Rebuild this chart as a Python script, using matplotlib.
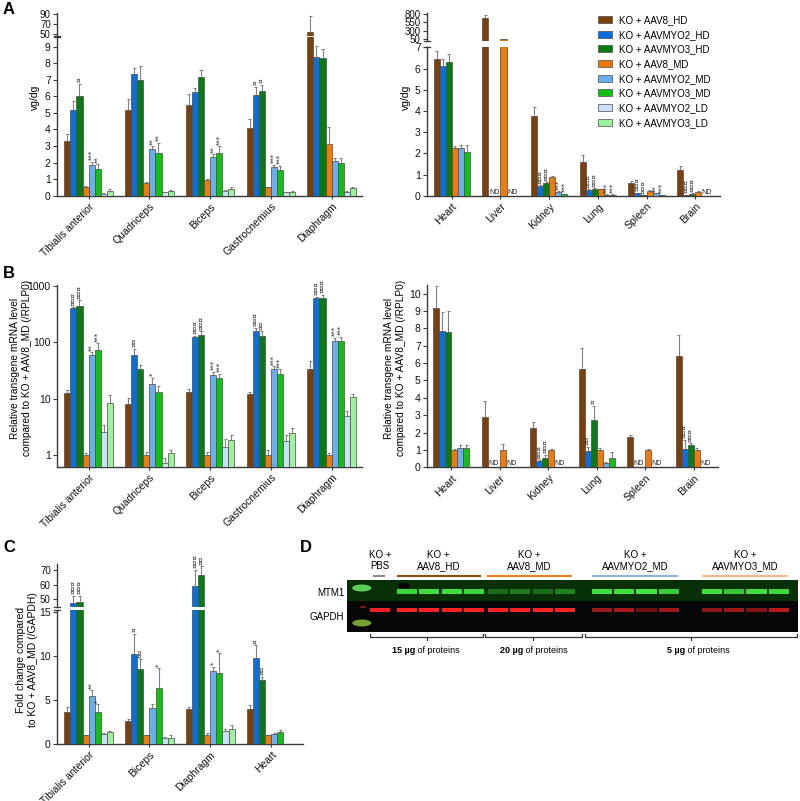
import numpy as np
import matplotlib
matplotlib.use("Agg")
import matplotlib.pyplot as plt
from matplotlib.patches import Rectangle, Ellipse, Patch
from matplotlib.ticker import NullLocator
from matplotlib.colors import to_rgb

plt.rcParams["font.family"] = ["Liberation Sans", "DejaVu Sans"]
plt.rcParams["axes.linewidth"] = 1.0

nan = np.nan

# ---------------- data ----------------
series_labels = ["KO + AAV8_HD", "KO + AAVMYO2_HD", "KO + AAVMYO3_HD", "KO + AAV8_MD",
                 "KO + AAVMYO2_MD", "KO + AAVMYO3_MD", "KO + AAVMYO2_LD", "KO + AAVMYO3_LD"]
series_colors = ["#7B3F0A", "#0A6FDB", "#0B7A14", "#EE7A0C",
                 "#6AAEF2", "#14BF14", "#C9E0F8", "#9DF29D"]

# Panel A (vg/dg), muscles
muscles_a = ["Tibialis anterior", "Quadriceps", "Biceps", "Gastrocnemius", "Diaphragm"]
a_muscle_vals = [[3.3, 5.2, 6.0, 0.5, 1.85, 1.6, 0.12, 0.3],
                 [5.15, 7.35, 7.0, 0.75, 2.8, 2.55, 0.2, 0.3],
                 [5.45, 6.25, 7.15, 0.93, 2.35, 2.55, 0.27, 0.42],
                 [4.1, 6.05, 6.3, 0.5, 1.72, 1.55, 0.22, 0.25],
                 [53.5, 8.4, 8.3, 3.15, 2.07, 1.95, 0.25, 0.45]]
a_muscle_err = [[0.45, 0.5, 0.75, 0.1, 0.2, 0.3, 0.05, 0.12],
                [0.7, 0.37, 0.85, 0.1, 0.17, 0.65, 0.05, 0.06],
                [0.7, 0.25, 0.45, 0.05, 0.15, 0.42, 0.1, 0.13],
                [0.55, 0.52, 0.4, 0.05, 0.16, 0.25, 0.03, 0.03],
                [33.0, 0.65, 0.55, 0.97, 0.23, 0.33, 0.05, 0.07]]
a_muscle_sig = [(0, 2, "¤"), (0, 4, "***"), (0, 5, "**"), (1, 4, "**"), (1, 5, "**"),
                (2, 4, "**"), (2, 5, "***"), (3, 1, "¤"), (3, 2, "¤"), (3, 4, "***"), (3, 5, "***")]

# Panel A (vg/dg), organs
organs = ["Heart", "Liver", "Kidney", "Lung", "Spleen", "Brain"]
a_organ_vals = [[6.45, 6.1, 6.3, 2.25, 2.25, 2.05],
                [690, nan, nan, 58, nan, nan],
                [3.75, 0.45, 0.6, 0.9, 0.18, 0.08],
                [1.6, 0.27, 0.32, 0.3, 0.05, 0.05],
                [0.62, 0.13, 0.02, 0.22, 0.12, 0.03],
                [1.2, 0.03, 0.1, 0.18, nan, nan]]
a_organ_err = [[0.4, 0.35, 0.4, 0.1, 0.12, 0.33],
               [80, nan, nan, 8, nan, nan],
               [0.45, 0.05, 0.05, 0.05, 0.03, 0.02],
               [0.3, 0.03, 0.02, 0.03, 0.01, 0.01],
               [0.06, 0.02, 0.01, 0.03, 0.01, 0.01],
               [0.18, 0.01, 0.02, 0.04, nan, nan]]
a_organ_sig = [(2, 1, "¤¤¤"), (2, 2, "¤¤¤"), (2, 4, "***"), (2, 5, "***"),
               (3, 1, "¤¤¤"), (3, 2, "¤¤¤"), (3, 4, "***"), (3, 5, "***"),
               (4, 1, "¤¤¤"), (4, 2, "¤¤¤"), (4, 4, "**"), (4, 5, "***"),
               (5, 1, "¤¤¤"), (5, 2, "¤¤¤")]
a_organ_nd = [(1, 1), (1, 4), (5, 4)]

# Panel B (relative mRNA), muscles (log scale)
b_muscle_vals = [[12.5, 400, 435, 1.0, 60, 74, 2.6, 8.5],
                 [7.9, 59, 33.5, 1.0, 17.8, 13.1, 0.73, 1.07],
                 [13, 122, 135, 1.0, 26, 23.5, 1.4, 1.85],
                 [12, 155, 128, 1.0, 34, 27, 1.75, 2.5],
                 [34, 610, 610, 1.0, 103, 106, 5.0, 10.5]]
b_muscle_err = [[1.8, 20, 115, 0.08, 6, 23, 0.75, 2.9],
                [2.2, 18, 6, 0.15, 5.5, 3.7, 0.17, 0.18],
                [2, 8, 20, 0.12, 4, 4, 0.5, 0.45],
                [1, 25, 27, 0.25, 4, 6, 0.5, 0.5],
                [12, 30, 80, 0.08, 17, 19, 1.0, 1.7]]
b_muscle_sig = [(0, 1, "¤¤¤"), (0, 2, "¤¤¤"), (0, 4, "**"), (0, 5, "***"),
                (1, 1, "¤¤"), (1, 4, "*"),
                (2, 1, "¤¤¤"), (2, 2, "¤¤¤"), (2, 4, "***"), (2, 5, "***"),
                (3, 1, "¤¤¤"), (3, 2, "¤¤"), (3, 4, "***"), (3, 5, "***"),
                (4, 1, "¤¤¤"), (4, 2, "¤¤¤"), (4, 4, "***"), (4, 5, "***")]

# Panel B (relative mRNA), organs
b_organ_vals = [[9.2, 7.85, 7.8, 1.0, 1.12, 1.1],
                [2.92, nan, nan, 1.0, nan, nan],
                [2.28, 0.35, 0.55, 1.0, nan, nan],
                [5.68, 0.95, 2.75, 1.0, 0.25, 0.55],
                [1.77, nan, nan, 1.0, nan, nan],
                [6.4, 1.05, 1.27, 1.0, nan, nan]]
b_organ_err = [[1.25, 1.1, 1.2, 0.05, 0.15, 0.17],
               [0.88, nan, nan, 0.32, nan, nan],
               [0.34, 0.05, 0.17, 0.07, nan, nan],
               [1.22, 0.23, 0.8, 0.12, 0.05, 0.35],
               [0.1, nan, nan, 0.05, nan, nan],
               [1.2, 0.55, 0.13, 0.12, nan, nan]]
b_organ_sig = [(2, 1, "¤¤¤"), (2, 2, "¤¤¤"), (3, 1, "¤¤"), (3, 2, "¤"),
               (5, 1, "¤¤¤"), (5, 2, "¤¤¤")]
b_organ_nd = [(1, 1), (1, 4), (2, 4), (4, 1), (4, 4), (5, 4)]

# Panel C (protein fold change)
tissues_c = ["Tibialis anterior", "Biceps", "Diaphragm", "Heart"]
c_vals = [[3.65, 47.3, 47.8, 1.0, 5.45, 3.65, 1.15, 1.35],
          [2.65, 10.2, 8.55, 1.0, 4.05, 6.4, 0.7, 0.7],
          [4.0, 59, 66.5, 1.0, 8.3, 8.05, 1.5, 1.7],
          [4.0, 9.7, 7.3, 1.0, 1.15, 1.4, nan, nan]]
c_err = [[0.55, 5, 4.5, 0.03, 0.65, 0.85, 0.05, 0.08],
         [0.15, 2.3, 1.05, 0.05, 0.45, 2.2, 0.05, 0.3],
         [0.15, 11, 6.2, 0.25, 0.45, 2.25, 0.15, 0.45],
         [0.4, 1.5, 0.35, 0.05, 0.05, 0.15, nan, nan]]
c_sig = [(0, 1, "¤¤¤"), (0, 2, "¤¤¤"), (0, 4, "**"), (0, 5, "*"),
         (1, 1, "¤"), (1, 2, "¤¤"), (1, 5, "*"),
         (2, 1, "¤¤¤"), (2, 2, "¤¤"), (2, 4, "*"), (2, 5, "*"),
         (3, 1, "¤"), (3, 2, "¤¤")]

# Panel D (western blot), relative band intensities per lane
blot_groups = ["KO +\nAAV8_HD", "KO +\nAAV8_MD", "KO +\nAAVMYO2_MD", "KO +\nAAVMYO3_MD"]
blot_group_colors = ["#8A4A12", "#EE7F1A", "#8EB3E3", "#F7B98C"]
mtm1_pbs = 0.0
gapdh_pbs = 0.95
mtm1_int = [[0.85, 0.9, 0.9, 0.85], [0.3, 0.38, 0.3, 0.42],
            [0.9, 0.9, 0.95, 0.8], [0.9, 0.78, 0.9, 0.88]]
gapdh_int = [[1.0, 1.0, 1.0, 1.0], [1.0, 1.0, 1.0, 1.0],
             [0.6, 0.65, 0.42, 0.6], [0.55, 0.6, 0.5, 0.72]]
protein_loads = ["15 µg", "20 µg", "5 µg"]

# ---------------- helpers ----------------
W, H = 800, 801
fig = plt.figure(figsize=(8, 8.01), dpi=100)

EDGE = "#4a4a4a"
ECOL = "#808080"
SPINE = "#3a3a3a"
FS = 7.5


def px_axes(x0, y0, x1, y1):
    return fig.add_axes([x0 / W, 1 - y1 / H, (x1 - x0) / W, (y1 - y0) / H])


def slot_x(g, s, n, w):
    return g + (s - (n - 1) / 2) * w


def draw_bars(axes_list, vals, errs, n, w, base=0.0):
    vals = np.asarray(vals, float)
    errs = np.asarray(errs, float)
    ng = vals.shape[0]
    for ax in axes_list:
        ylo = ax.get_ylim()[0]
        for s in range(n):
            xs = np.array([slot_x(g, s, n, w) for g in range(ng)])
            v = vals[:, s]
            e = errs[:, s]
            vis = ~np.isnan(v) & (v > ylo)
            ax.bar(xs[vis], v[vis] - base, w, bottom=base, color=series_colors[s],
                   edgecolor=EDGE, linewidth=0.5, zorder=3)
            ok = vis & ~np.isnan(e)
            ax.vlines(xs[ok], v[ok], v[ok] + e[ok], color=ECOL, lw=0.8, zorder=2)
            ax.hlines(v[ok] + e[ok], xs[ok] - w * 0.25, xs[ok] + w * 0.25,
                      color=ECOL, lw=0.8, zorder=2)


def annotate_sig(ax_lo, ax_hi, vals, errs, sigs, n, w):
    for g, s, txt in sigs:
        top = vals[g][s] + errs[g][s]
        ax = ax_lo
        if ax_hi is not None and top > ax_lo.get_ylim()[1]:
            ax = ax_hi
        fs = 5.2 if "¤" in txt else 5
        ax.annotate(txt, (slot_x(g, s, n, w), top), xytext=(0, 1.0),
                    textcoords="offset points", ha="center", va="bottom",
                    rotation=90, fontsize=fs, color="#222222", zorder=5,
                    family=["DejaVu Sans"])


def add_nd(ax, nds, n, w):
    for g, s in nds:
        ax.text(slot_x(g, s, n, w) - w / 2 + 0.01, 0, "ND", fontsize=5,
                ha="left", va="bottom", color="#222222")


def style(ax, top=False):
    for sp in ["top", "right"]:
        ax.spines[sp].set_visible(False)
    ax.spines["left"].set_color(SPINE)
    ax.spines["bottom"].set_color(SPINE)
    ax.tick_params(axis="y", length=3, width=0.8, pad=1.5, labelsize=FS,
                   color=SPINE, labelcolor="#111111")
    ax.tick_params(axis="x", length=2.5, width=0.8, pad=1.5, labelsize=FS,
                   color=SPINE, labelcolor="#111111")
    if top:
        ax.spines["bottom"].set_visible(False)
        ax.tick_params(axis="x", bottom=False, labelbottom=False)
        ax.xaxis.set_visible(False)
        ax.tick_params(axis="y", labelsize=7)


def break_mark(ax, where):
    bb = ax.get_position()
    d = 3.0 / (bb.width * W)
    ax.plot([-d, d], [where, where], transform=ax.transAxes, color=SPINE,
            lw=0.9, clip_on=False, zorder=6)


def set_xlabels(ax, names):
    ax.set_xticks(range(len(names)))
    ax.set_xticklabels(names, rotation=45, ha="right", rotation_mode="anchor")


W8 = 0.1
W6 = 0.1235

# ---------------- Panel A left ----------------
ax_al_hi = px_axes(57, 13.4, 362, 35.5)
ax_al = px_axes(57, 37.3, 362, 195.7)
for ax in (ax_al_hi, ax_al):
    ax.set_xlim(-0.52, 4.5)
ax_al_hi.set_ylim(47, 92)
ax_al.set_ylim(0, 9.56)
draw_bars([ax_al_hi, ax_al], a_muscle_vals, a_muscle_err, 8, W8)
style(ax_al_hi, top=True)
style(ax_al)
ax_al_hi.set_yticks([50, 70, 90])
ax_al.set_yticks(range(10))
set_xlabels(ax_al, muscles_a)
annotate_sig(ax_al, ax_al_hi, a_muscle_vals, a_muscle_err, a_muscle_sig, 8, W8)
break_mark(ax_al_hi, 0)
break_mark(ax_al, 1)

# ---------------- Panel A right ----------------
ax_ar_hi = px_axes(427, 13, 720, 40.5)
ax_ar = px_axes(427, 46.7, 720, 195.7)
for ax in (ax_ar_hi, ax_ar):
    ax.set_xlim(-0.51, 5.51)
ax_ar_hi.set_ylim(12, 830)
ax_ar.set_ylim(0, 7.03)
draw_bars([ax_ar_hi, ax_ar], a_organ_vals, a_organ_err, 6, W6)
style(ax_ar_hi, top=True)
style(ax_ar)
ax_ar_hi.set_yticks([50, 300, 550, 800])
ax_ar.set_yticks(range(8))
set_xlabels(ax_ar, organs)
annotate_sig(ax_ar, ax_ar_hi, a_organ_vals, a_organ_err, a_organ_sig, 6, W6)
add_nd(ax_ar, a_organ_nd, 6, W6)
break_mark(ax_ar_hi, 0)
break_mark(ax_ar, 1)

fig.text(35 / W, 1 - 97 / H, "vg/dg", rotation=90, ha="center", va="center", fontsize=FS)
fig.text(406 / W, 1 - 97 / H, "vg/dg", rotation=90, ha="center", va="center", fontsize=FS)

handles = [Patch(facecolor=c, edgecolor=EDGE, linewidth=0.5) for c in series_colors]
fig.legend(handles, series_labels, loc="upper left", bbox_to_anchor=(598 / W, 1 - 15 / H),
           frameon=False, fontsize=7, handlelength=1.45, handleheight=0.72,
           handletextpad=0.7, labelspacing=0.48, borderpad=0, borderaxespad=0)

# ---------------- Panel B left ----------------
ax_bl = px_axes(57, 285, 362, 466.7)
ax_bl.set_yscale("log")
ax_bl.set_xlim(-0.52, 4.5)
ax_bl.set_ylim(0.62, 1033)
draw_bars([ax_bl], b_muscle_vals, b_muscle_err, 8, W8, base=0.3)
style(ax_bl)
ax_bl.set_yticks([1, 10, 100, 1000])
ax_bl.set_yticklabels(["1", "10", "100", "1000"])
ax_bl.yaxis.set_minor_locator(NullLocator())
set_xlabels(ax_bl, muscles_a)
annotate_sig(ax_bl, None, b_muscle_vals, b_muscle_err, b_muscle_sig, 8, W8)

# ---------------- Panel B right ----------------
ax_br = px_axes(427, 285, 718, 467.3)
ax_br.set_xlim(-0.5, 5.5)
ax_br.set_ylim(0, 10.5)
draw_bars([ax_br], b_organ_vals, b_organ_err, 6, W6)
style(ax_br)
ax_br.set_yticks(range(11))
set_xlabels(ax_br, organs)
annotate_sig(ax_br, None, b_organ_vals, b_organ_err, b_organ_sig, 6, W6)
add_nd(ax_br, b_organ_nd, 6, W6)

ylab_b = "Relative transgene mRNA level\ncompared to KO + AAV8_MD (/RPLP0)"
fig.text(21 / W, 1 - 368 / H, ylab_b, rotation=90, ha="center", va="center",
         fontsize=7.3, multialignment="center")
fig.text(395 / W, 1 - 368 / H, ylab_b, rotation=90, ha="center", va="center",
         fontsize=7.3, multialignment="center")

# ---------------- Panel C ----------------
ax_c_hi = px_axes(57, 564, 302.7, 606.5)
ax_c = px_axes(57, 610, 302.7, 744)
for ax in (ax_c_hi, ax_c):
    ax.set_xlim(-0.52, 3.52)
ax_c_hi.set_ylim(45, 74)
ax_c.set_ylim(0, 15.19)
draw_bars([ax_c_hi, ax_c], c_vals, c_err, 8, W8)
style(ax_c_hi, top=True)
style(ax_c)
ax_c_hi.set_yticks([50, 60, 70])
ax_c.set_yticks([0, 5, 10, 15])
set_xlabels(ax_c, tissues_c)
annotate_sig(ax_c, ax_c_hi, c_vals, c_err, c_sig, 8, W8)
break_mark(ax_c_hi, 0)
break_mark(ax_c, 1)
fig.text(27 / W, 1 - 660 / H, "Fold change compared\nto KO + AAV8_MD (/GAPDH)", rotation=90,
         ha="center", va="center", fontsize=FS, multialignment="center")

# ---------------- Panel D (blot schematic) ----------------
axd = px_axes(330, 545, 800, 660)
axd.set_xlim(-0.759, 20.22)
axd.set_ylim(115, 0)
axd.axis("off")

BG_TOP = "#073007"
BG_BOT = "#070707"
axd.add_patch(Rectangle((0, 35), 20.13, 21, facecolor=BG_TOP, edgecolor="none"))
axd.add_patch(Rectangle((0, 56), 20.13, 31, facecolor=BG_BOT, edgecolor="none"))


def mix(c0, c1, t):
    a = np.array(to_rgb(c0)); b = np.array(to_rgb(c1))
    return tuple(a + (b - a) * t)


GREEN = "#46F046"
RED = "#FF2222"
group_starts = [2.67, 6.74, 11.37, 16.28]
lane_step = 1.0
pbs_x = 1.47
ladder_x = 0.66

# ladder
axd.add_patch(Ellipse((ladder_x, 43), 0.85, 7, facecolor="#5ACF5A", edgecolor="none"))
axd.add_patch(Ellipse((ladder_x, 78), 0.85, 7, facecolor="#74A030", edgecolor="none"))
axd.add_patch(Ellipse((ladder_x + 0.05, 62), 0.3, 2, facecolor="#8A1A1A", edgecolor="none"))
# PBS lane
axd.add_patch(Rectangle((pbs_x - 0.45, 63), 0.9, 4, facecolor=mix(BG_BOT, RED, gapdh_pbs),
                        edgecolor="none"))
for gi, x0 in enumerate(group_starts):
    for li in range(4):
        x = x0 + li * lane_step
        axd.add_patch(Rectangle((x - 0.45, 43.5), 0.9, 5,
                                facecolor=mix(BG_TOP, GREEN, mtm1_int[gi][li]), edgecolor="none"))
        axd.add_patch(Rectangle((x - 0.45, 63), 0.9, 4.2,
                                facecolor=mix(BG_BOT, RED, gapdh_int[gi][li]), edgecolor="none"))
# dark spot on first HD lane
axd.add_patch(Ellipse((group_starts[0] - 0.12, 41), 0.5, 6, facecolor="black", edgecolor="none"))

axd.text(-0.12, 48, "MTM1", ha="right", va="center", fontsize=7)
axd.text(-0.12, 71.5, "GAPDH", ha="right", va="center", fontsize=7)

# group labels and coloured lines
axd.text(pbs_x, 15.7, "KO +\nPBS", ha="center", va="center", fontsize=7, linespacing=1.15)
axd.plot([1.16, 1.70], [30.7, 30.7], color="#8A8A8A", lw=1.5, solid_capstyle="butt")
line_spans = [(2.22, 5.97), (6.25, 10.03), (10.94, 14.78), (15.83, 19.7)]
for (x0, x1), lab, col in zip(line_spans, blot_groups, blot_group_colors):
    axd.text((x0 + x1) / 2, 15.7, lab, ha="center", va="center", fontsize=7, linespacing=1.15)
    axd.plot([x0, x1], [30.7, 30.7], color=col, lw=1.5, solid_capstyle="butt")

# brackets
brackets = [(1.03, 6.08), (6.16, 10.48), (10.63, 20.08)]
splits = [3.04, 7.86, 15.09]
for (x0, x1), load, xs in zip(brackets, protein_loads, splits):
    axd.plot([x0, x0, x1, x1], [88.5, 91.7, 91.7, 88.5], color="#333333", lw=0.9)
    xm = (x0 + x1) / 2
    axd.plot([xm, xm], [91.7, 95], color="#333333", lw=0.9)
    t1 = axd.text(xs, 105.7, load, ha="right", va="center", fontsize=6.5, weight="bold")
    axd.annotate(" of proteins", xy=(1, 0), xycoords=t1, ha="left", va="bottom", fontsize=6.5)

# panel letters
for lab, (x, y) in zip("ABCD", [(3, 9), (3, 274), (3, 548), (300, 548)]):
    fig.text(x / W, 1 - y / H, lab, fontsize=12, weight="bold", ha="left", va="center")

fig.savefig("out.png", dpi=100)
